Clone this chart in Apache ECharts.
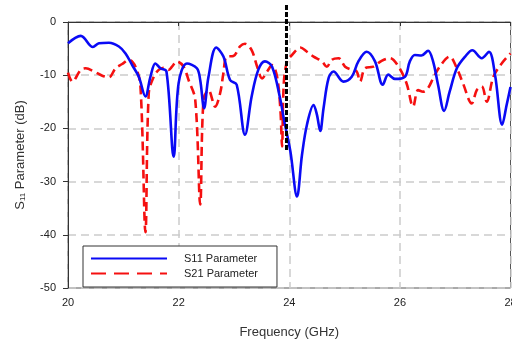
<!DOCTYPE html>
<html>
<head>
<meta charset="utf-8">
<title>S-parameters</title>
<script src="https://cdn.jsdelivr.net/npm/echarts@6/dist/echarts.min.js"></script>
<style>
  html, body { margin: 0; padding: 0; background: #fff; }
</style>
</head>
<body>
<div id="main" style="width:512px;height:339px;"></div>
<script>
// S11 (blue, solid) - [GHz, dB]
var s11Freq = [20.00, 20.23, 20.45, 20.56, 20.74, 20.92, 21.04, 21.16, 21.28, 21.40, 21.49, 21.58, 21.67, 21.78, 21.91, 22.00,
  22.15, 22.33, 22.39, 22.46, 22.54, 22.68, 22.81, 22.93, 23.05, 23.20, 23.32, 23.44, 23.56, 23.69, 23.84, 23.90,
  24.02, 24.14, 24.23, 24.32, 24.44, 24.50, 24.56, 24.62, 24.71, 24.80, 24.98, 25.13, 25.25, 25.40, 25.55, 25.69,
  25.79, 25.91, 26.09, 26.18, 26.27, 26.39, 26.51, 26.60, 26.69, 26.80, 26.90, 27.03, 27.18, 27.31, 27.48, 27.61,
  27.72, 27.85, 27.93, 28.00];
var s11Db = [-4.0, -2.6, -4.7, -4.0, -3.9, -4.6, -5.9, -8.1, -10.3, -14.0, -10.3, -7.8, -8.7, -9.3, -25.3, -11.5,
  -7.8, -8.7, -10.9, -16.2, -10.3, -4.8, -6.5, -10.9, -11.8, -21.2, -14.0, -9.0, -7.4, -8.4, -14.6, -18.1,
  -24.3, -32.8, -25.0, -19.3, -15.6, -17.4, -20.5, -16.2, -10.6, -9.3, -11.2, -10.3, -7.4, -5.6, -7.4, -11.8,
  -9.9, -10.7, -10.3, -7.4, -6.2, -6.3, -5.4, -7.4, -11.8, -16.7, -13.1, -8.7, -6.5, -5.3, -6.8, -5.6,
  -9.9, -19.3, -15.6, -12.2];

// S21 (red, dashed)
var s21Freq = [20.00, 20.08, 20.23, 20.32, 20.47, 20.62, 20.74, 20.86, 20.98, 21.10, 21.22, 21.31, 21.40, 21.46, 21.55, 21.64,
  21.73, 21.82, 21.88, 21.97, 22.09, 22.18, 22.30, 22.39, 22.45, 22.54, 22.66, 22.75, 22.81, 22.87, 22.99, 23.11,
  23.20, 23.32, 23.42, 23.51, 23.60, 23.69, 23.78, 23.84, 23.87, 23.90, 23.96, 24.05, 24.20, 24.32, 24.44, 24.59,
  24.68, 24.77, 24.89, 25.01, 25.13, 25.22, 25.28, 25.37, 25.52, 25.67, 25.82, 25.97, 26.12, 26.24, 26.33, 26.42,
  26.51, 26.60, 26.72, 26.90, 27.03, 27.14, 27.30, 27.39, 27.48, 27.57, 27.69, 27.84, 28.00];
var s21Db = [-9.5, -11.2, -9.0, -8.7, -9.3, -10.1, -10.4, -8.7, -7.9, -7.1, -8.4, -12.1, -39.5, -13.4, -10.3, -9.0,
  -8.6, -9.0, -8.4, -7.4, -8.4, -10.9, -14.6, -34.3, -14.6, -12.8, -15.9, -13.4, -9.6, -6.5, -6.4, -4.6,
  -4.1, -5.3, -8.4, -10.6, -9.3, -8.1, -10.3, -16.5, -23.4, -11.8, -7.4, -6.2, -4.8, -5.6, -6.5, -7.4,
  -8.4, -7.1, -6.8, -8.4, -9.0, -9.3, -11.2, -8.7, -8.4, -7.3, -6.8, -8.3, -11.5, -15.9, -12.8, -13.1,
  -12.4, -10.6, -8.4, -6.5, -8.7, -11.5, -15.3, -12.8, -12.1, -15.0, -10.3, -7.8, -5.9];

// black dashed marker line
var markerFreq = [23.95, 23.95];
var markerDb = [3.2, -24.4];

function pairs(xs, ys) {
  var out = [];
  for (var i = 0; i < xs.length; i++) out.push([xs[i], ys[i]]);
  return out;
}

var myChart = echarts.init(document.getElementById('main'));

var option = {
  animation: false,
  grid: {
    left: 68, right: 1.5, top: 22, bottom: 51,
    outerBoundsMode: 'none', containLabel: false,
    show: true, borderColor: '#555', borderWidth: 1
  },
  legend: {
    left: 83, top: 246,
    orient: 'vertical',
    itemWidth: 76, itemHeight: 10, itemGap: 4,
    itemStyle: { opacity: 0 },
    padding: [7, 19, 8, 7],
    borderColor: '#333', borderWidth: 1,
    backgroundColor: '#fff',
    textStyle: { fontFamily: 'Liberation Sans, Arial', fontSize: 11, color: '#222', padding: [0, 0, 0, 12] },
    data: [
      { name: 'S11 Parameter' },
      { name: 'S21 Parameter', lineStyle: { type: [15, 8] } }
    ]
  },
  xAxis: {
    type: 'value', min: 20, max: 28, interval: 2,
    name: 'Frequency (GHz)', nameLocation: 'middle', nameGap: 38,
    nameTextStyle: { fontFamily: 'Liberation Sans, Arial', fontSize: 13, color: '#333' },
    axisLine: { lineStyle: { color: '#333', width: 1 } },
    axisTick: { show: true, length: 4, lineStyle: { color: '#333' } },
    axisLabel: { margin: 9, fontFamily: 'Liberation Sans, Arial', fontSize: 11, color: '#222' },
    splitLine: { show: true, lineStyle: { color: '#ccc', width: 1.5, type: [8, 5] } }
  },
  yAxis: {
    type: 'value', min: -50, max: 0, interval: 10,
    name: 'S{sub|11} Parameter (dB)', nameLocation: 'middle', nameGap: 41,
    nameTextStyle: {
      fontFamily: 'Liberation Sans, Arial', fontSize: 13, color: '#333',
      rich: { sub: { fontSize: 8, verticalAlign: 'bottom', padding: [6, 0, 0, 0], fontFamily: 'Liberation Sans, Arial', color: '#333' } }
    },
    axisLine: { show: true, lineStyle: { color: '#333', width: 1 } },
    axisTick: { show: true, length: 5, lineStyle: { color: '#333' } },
    axisLabel: { margin: 12, fontFamily: 'Liberation Sans, Arial', fontSize: 11, color: '#222' },
    splitLine: { show: true, lineStyle: { color: '#ccc', width: 1.5, type: [8, 5] } }
  },
  series: [
    {
      name: 'S11 Parameter', type: 'line', symbol: 'none', smooth: 0.35,
      lineStyle: { color: '#0a0af5', width: 2.6 },
      itemStyle: { color: '#0a0af5' },
      data: pairs(s11Freq, s11Db), z: 3
    },
    {
      name: 'S21 Parameter', type: 'line', symbol: 'none', smooth: 0.35,
      lineStyle: { color: '#f51010', width: 2.6, type: [9, 5] },
      itemStyle: { color: '#f51010' },
      data: pairs(s21Freq, s21Db), z: 2
    },
    {
      name: 'marker', type: 'line', symbol: 'none', clip: false,
      lineStyle: { color: '#000', width: 3, type: [5, 2] },
      data: pairs(markerFreq, markerDb), z: 4
    }
  ]
};

myChart.setOption(option);
</script>
</body>
</html>
